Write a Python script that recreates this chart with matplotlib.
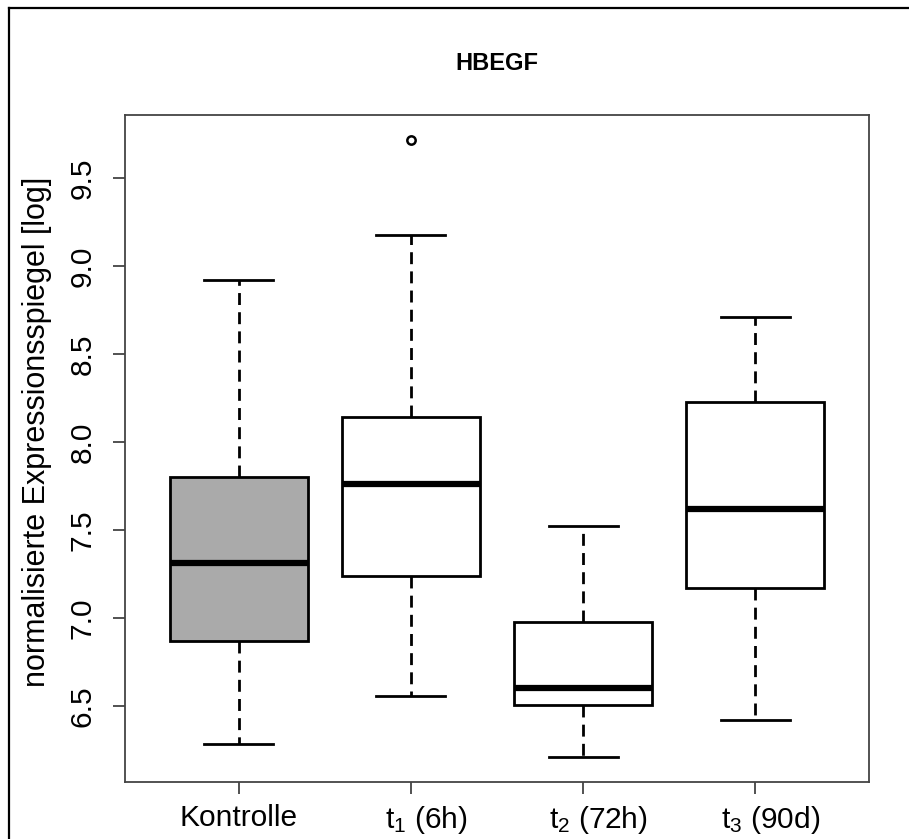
import matplotlib
matplotlib.use("Agg")
import matplotlib.pyplot as plt
from matplotlib.lines import Line2D
from matplotlib.transforms import ScaledTranslation

plt.rcParams['font.family'] = ['Liberation Sans', 'DejaVu Sans']
plt.rcParams['mathtext.fontset'] = 'custom'
plt.rcParams['mathtext.rm'] = 'Liberation Sans'
plt.rcParams['mathtext.it'] = 'Liberation Sans'
plt.rcParams['mathtext.bf'] = 'Liberation Sans:bold'

# ---- data ----
categories = ["Kontrolle", r"t$_\mathregular{1}$ (6h)", r"t$_\mathregular{2}$ (72h)", r"t$_\mathregular{3}$ (90d)"]
medians = [7.31, 7.76, 6.60, 7.62]
q1 = [6.87, 7.235, 6.505, 7.167]
q3 = [7.80, 8.14, 6.976, 8.228]
whislo = [6.284, 6.553, 6.207, 6.416]
whishi = [8.92, 9.18, 7.52, 8.709]
outliers = [[], [9.72], [], []]
fills = ["#AAAAAA", "white", "white", "white"]
yticks = [6.5, 7.0, 7.5, 8.0, 8.5, 9.0, 9.5]
title = "HBEGF"
ylabel = "normalisierte Expressionsspiegel [log]"

W, H = 909, 839
fig = plt.figure(figsize=(W / 100, H / 100), dpi=100)
ax = fig.add_axes([125 / W, 1 - 782 / H, (869 - 125) / W, (782 - 115) / H])

stats = []
for i in range(len(categories)):
    stats.append(dict(med=medians[i], q1=q1[i], q3=q3[i],
                      whislo=whislo[i], whishi=whishi[i], fliers=outliers[i]))

bp = ax.bxp(stats, positions=[1, 2, 3, 4], widths=0.8, patch_artist=True,
            boxprops=dict(linewidth=2.0, edgecolor='black'),
            medianprops=dict(linewidth=4.5, color='black', solid_capstyle='butt'),
            whiskerprops=dict(linewidth=2.0, color='black', linestyle=(0, (4.3, 2.6))),
            capprops=dict(linewidth=2.0, color='black'),
            flierprops=dict(marker='o', markersize=6, markerfacecolor='none',
                            markeredgecolor='black', markeredgewidth=1.8))
for patch, c in zip(bp['boxes'], fills):
    patch.set_facecolor(c)
    patch.set_joinstyle('miter')

ax.set_xlim(0.34, 4.66)
ax.set_ylim(6.066, 9.86)
ax.set_xticks([1, 2, 3, 4])
ax.set_xticklabels(categories, fontsize=21.5)
ax.set_yticks(yticks)
ax.set_yticklabels([f"{v:.1f}" for v in yticks], fontsize=21.5, rotation=90, va='center')
ax.tick_params(axis='both', direction='out', length=8.6, width=1.2, color='#333333')
ax.tick_params(axis='x', pad=7)
ax.tick_params(axis='y', pad=12)
for s in ax.spines.values():
    s.set_linewidth(1.3)
    s.set_color('#444444')

# the t-labels sit slightly right of their ticks in the reference
for lab in ax.get_xticklabels()[1:]:
    lab.set_transform(lab.get_transform() + ScaledTranslation(0.15, 0, fig.dpi_scale_trans))

fig.text(37 / W, 1 - 432 / H, ylabel, rotation=90, fontsize=22,
         ha='center', va='center')
fig.text(497 / W, 1 - 63 / H, title, fontsize=17, fontweight='bold',
         ha='center', va='center')

# outer frame (left and top edges)
fig.add_artist(Line2D([9 / W, 9 / W], [0, 1 - 8 / H], transform=fig.transFigure,
                      color='black', linewidth=1.6))
fig.add_artist(Line2D([9 / W, 1], [1 - 8 / H, 1 - 8 / H], transform=fig.transFigure,
                      color='black', linewidth=1.6))

fig.savefig("out.png", dpi=100)
